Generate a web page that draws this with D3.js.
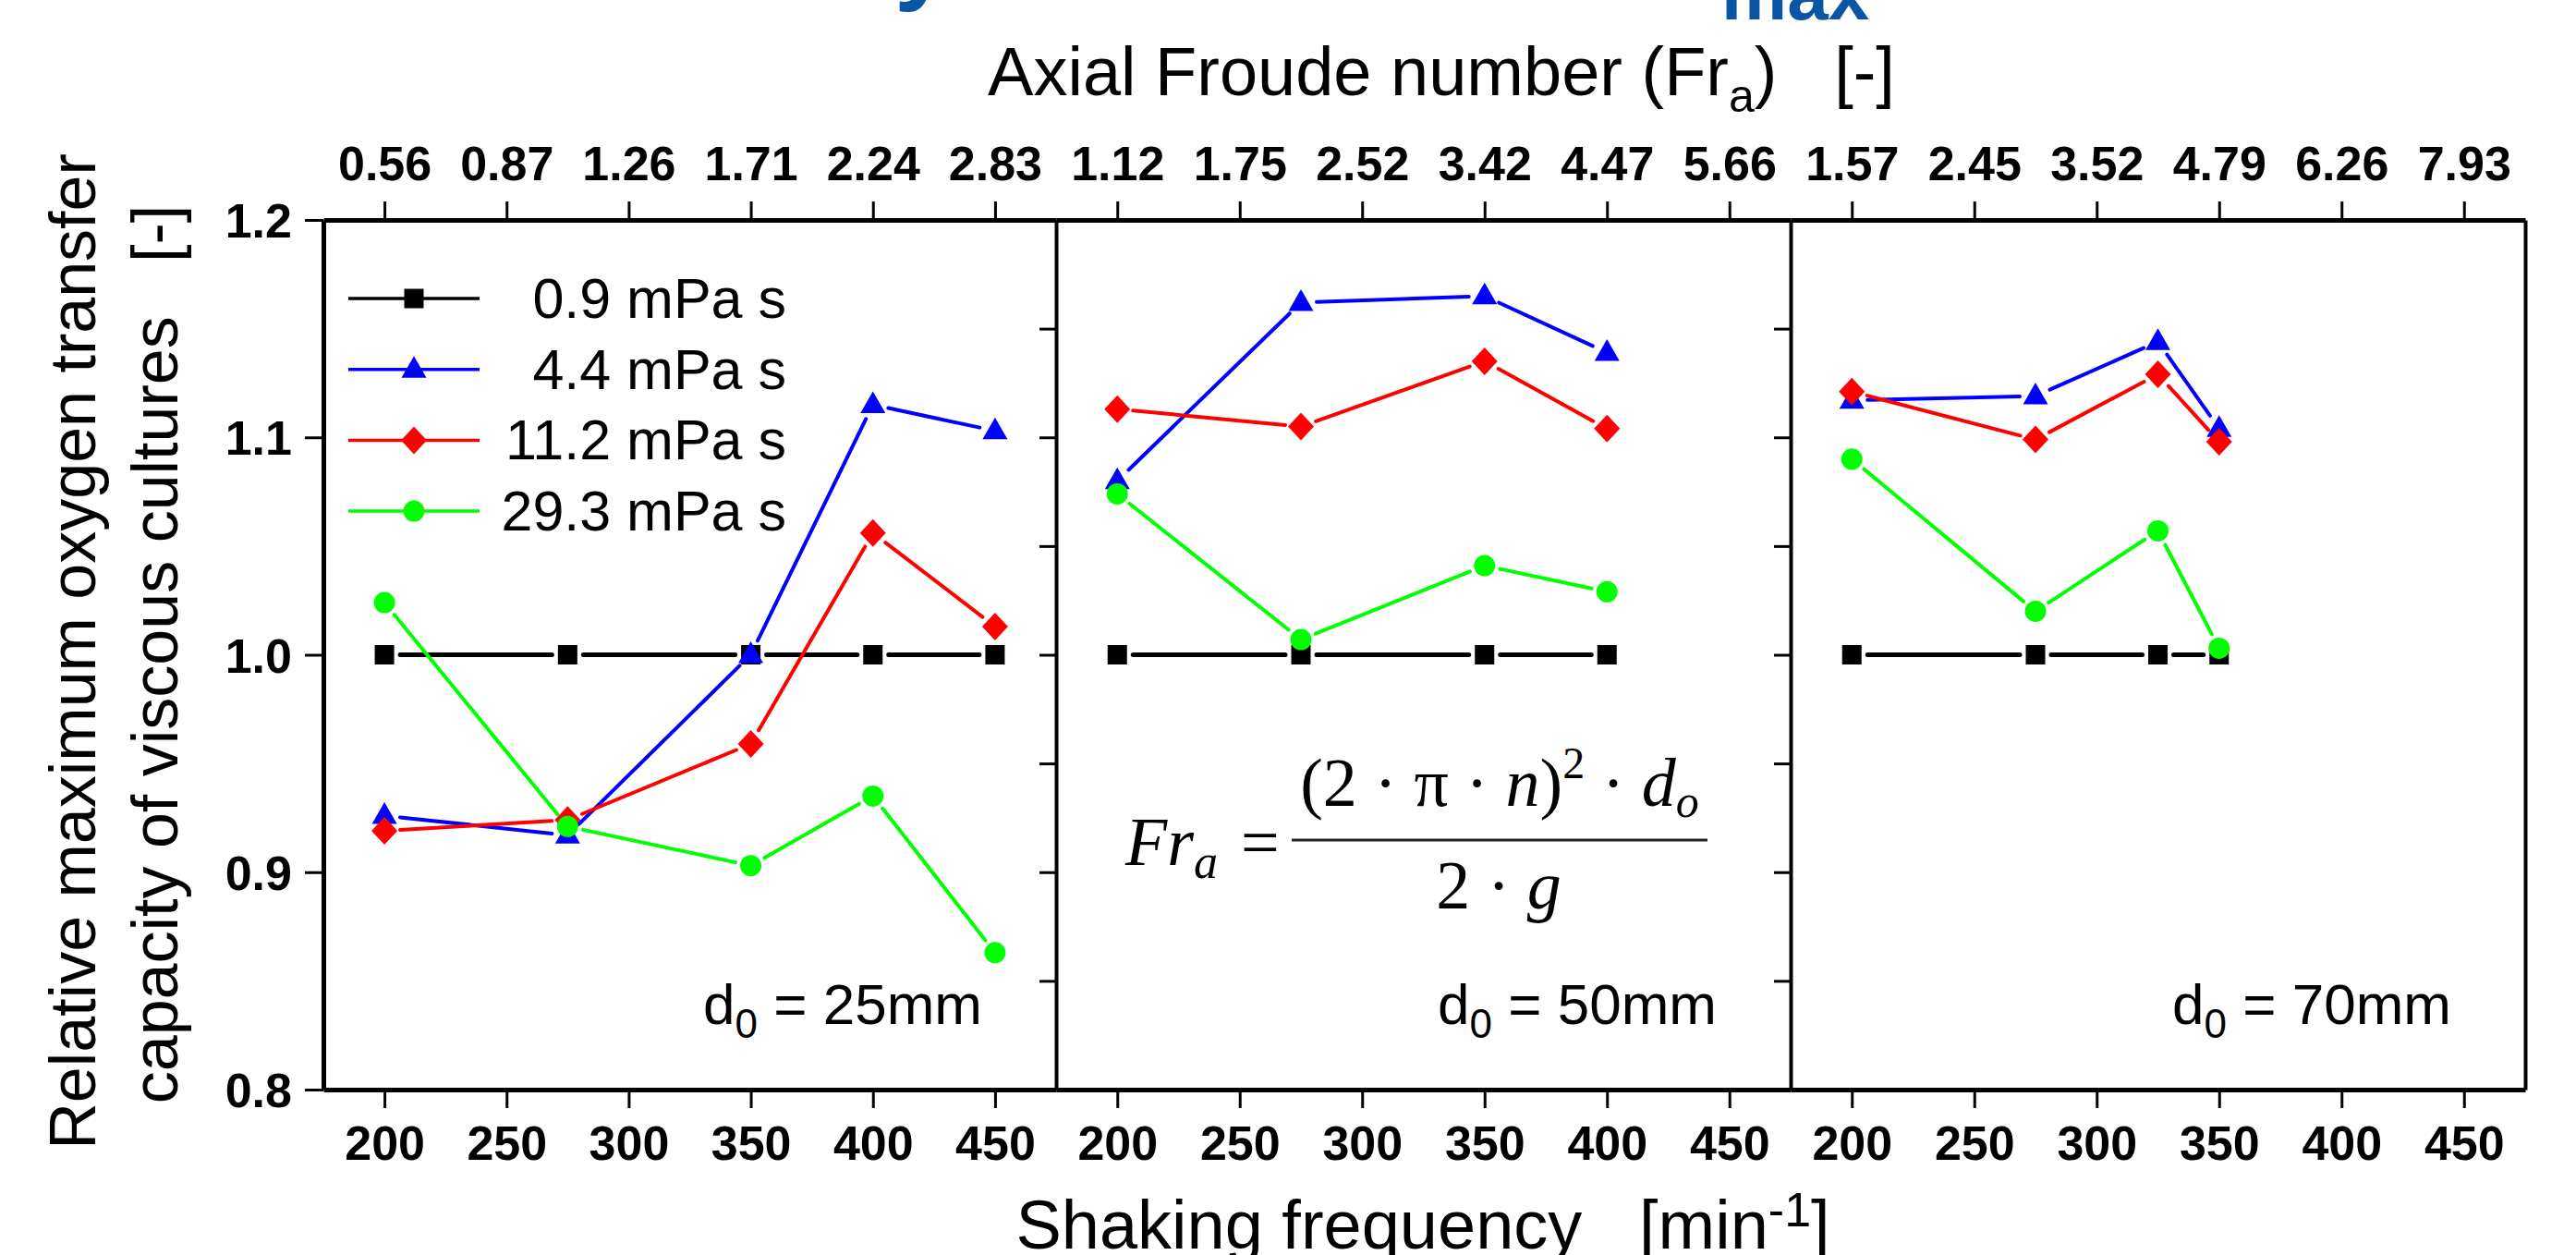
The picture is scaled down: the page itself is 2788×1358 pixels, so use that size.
<!DOCTYPE html>
<html>
<head>
<meta charset="utf-8">
<script src="https://cdn.jsdelivr.net/npm/d3@7"></script>
<style>
body{margin:0;background:#fff}
text{font-family:"Liberation Sans",Arial,sans-serif;white-space:pre}
</style>
</head>
<body>
<div id="chart"></div>
<script>
'use strict'
// shaking frequency of the measured points [1/min]
const freqP1=[200,275,350,400,450]
const freqP2=[200,275,350,400]
const freqP3=[200,275,325,350]
const freqTicks=[200,250,300,350,400,450]
// axial Froude numbers shown on the top axis
const froudeP1=['0.56','0.87','1.26','1.71','2.24','2.83']
const froudeP2=['1.12','1.75','2.52','3.42','4.47','5.66']
const froudeP3=['1.57','2.45','3.52','4.79','6.26','7.93']
const yTicks=[0.8,0.9,1.0,1.1,1.2]
const yMinorTicks=[0.85,0.9,0.95,1.0,1.05,1.1,1.15]
const seriesNames=['0.9 mPa s','4.4 mPa s','11.2 mPa s','29.3 mPa s']
const seriesColors=['#000000','#0000ff','#ff0000','#00ff00']
const panelLabels=['25mm','50mm','70mm']
// relative OTRmax, d0 = 25mm
const v09P1=[1,1,1,1,1]
const v44P1=[0.926,0.917,1.000,1.115,1.103]
const v112P1=[0.919,0.924,0.959,1.056,1.013]
const v293P1=[1.024,0.921,0.903,0.935,0.863]
// d0 = 50mm
const v09P2=[1,1,1,1]
const v44P2=[1.080,1.162,1.165,1.139]
const v112P2=[1.113,1.105,1.135,1.104]
const v293P2=[1.074,1.007,1.041,1.029]
// d0 = 70mm
const v09P3=[1,1,1,1]
const v44P3=[1.117,1.119,1.144,1.104]
const v112P3=[1.121,1.099,1.129,1.098]
const v293P3=[1.090,1.020,1.057,1.003]

let panels=[
  {freq:freqP1,froude:froudeP1,series:[v09P1,v44P1,v112P1,v293P1],label:panelLabels[0]},
  {freq:freqP2,froude:froudeP2,series:[v09P2,v44P2,v112P2,v293P2],label:panelLabels[1]},
  {freq:freqP3,froude:froudeP3,series:[v09P3,v44P3,v112P3,v293P3],label:panelLabels[2]}
]

const W=2788,H=1358
const plotTop=238,plotBottom=1179
const panelEdges=[350,1143,1938,2733]
const gap=17
const tickFont='bold 52px "Liberation Sans", Arial, sans-serif'

// origin-like marker shapes
const symSquare={draw(c){c.rect(-10.5,-10.5,21,21)}}
const symTriangle={draw(c){c.moveTo(0,-14.5);c.lineTo(13.5,9);c.lineTo(-13.5,9);c.closePath()}}
const symDiamond={draw(c){c.moveTo(0,-15);c.lineTo(14,0);c.lineTo(0,15);c.lineTo(-14,0);c.closePath()}}
const symCircle={draw(c){c.moveTo(11.5,0);c.arc(0,0,11.5,0,2*Math.PI)}}
const symbols=[symSquare,symTriangle,symDiamond,symCircle]

let svg=d3.select('#chart').append('svg').attr('width',W).attr('height',H).style('display','block')
svg.append('rect').attr('width',W).attr('height',H).attr('fill','#fff')

let y=d3.scaleLinear().domain([0.8,1.2]).range([plotBottom,plotTop])

function styleAxis(g,domainW){
  g.attr('font-size',null).attr('font-family',null)
  g.select('.domain').attr('stroke','#000').attr('stroke-width',domainW)
  g.selectAll('.tick line').attr('stroke','#000').attr('stroke-width',3)
  g.selectAll('.tick text').style('font',tickFont).attr('fill','#000')
}

// left y axis
let gl=svg.append('g').attr('transform','translate('+panelEdges[0]+',0)')
  .call(d3.axisLeft(y).tickValues(yTicks).tickFormat(d3.format('.1f')).tickSize(20).tickPadding(14).tickSizeOuter(0))
styleAxis(gl,5)
gl.selectAll('.tick text').attr('dy','0.36em')

// dividers between panels with small ticks
for(let k=1;k<3;k++){
  let gd=svg.append('g').attr('transform','translate('+panelEdges[k]+',0)')
    .call(d3.axisLeft(y).tickValues(yMinorTicks).tickFormat('').tickSize(18).tickSizeOuter(0))
  styleAxis(gd,4)
}
let gr=svg.append('g').attr('transform','translate('+panelEdges[3]+',0)')
  .call(d3.axisLeft(y).tickValues([]).tickSizeOuter(0))
styleAxis(gr,4)

function shorten(a,b){
  let dx=b[0]-a[0],dy=b[1]-a[1]
  let L=Math.sqrt(dx*dx+dy*dy)
  if(L<2*gap)return null
  let ux=dx/L,uy=dy/L
  return [a[0]+ux*gap,a[1]+uy*gap,b[0]-ux*gap,b[1]-uy*gap]
}

panels.forEach(function(p,i){
  let x=d3.scaleLinear().domain([175,475]).range([panelEdges[i],panelEdges[i+1]])
  let gb=svg.append('g').attr('transform','translate(0,'+plotBottom+')')
    .call(d3.axisBottom(x).tickValues(freqTicks).tickFormat(d3.format('d')).tickSize(20).tickPadding(19).tickSizeOuter(0))
  styleAxis(gb,5)
  let gt=svg.append('g').attr('transform','translate(0,'+plotTop+')')
    .call(d3.axisTop(x).tickValues(freqTicks).tickFormat((d,k)=>p.froude[k]).tickSize(20).tickPadding(23).tickSizeOuter(0))
  styleAxis(gt,5)

  p.series.forEach(function(vals,s){
    let pts=p.freq.map((f,k)=>[x(f),y(vals[k])])
    let segs=d3.pairs(pts).map(d=>shorten(d[0],d[1])).filter(d=>d)
    svg.append('g').selectAll('line').data(segs).join('line')
      .attr('x1',d=>d[0]).attr('y1',d=>d[1]).attr('x2',d=>d[2]).attr('y2',d=>d[3])
      .attr('stroke',seriesColors[s]).attr('stroke-width',s==0?5:4).attr('stroke-linecap','round')
    svg.append('g').selectAll('path').data(pts).join('path')
      .attr('transform',d=>'translate('+d[0]+','+d[1]+')')
      .attr('d',d3.symbol(symbols[s]))
      .attr('fill',seriesColors[s])
  })

  let t=svg.append('text').attr('x',panelEdges[i+1]-80).attr('y',1108).attr('text-anchor','end').attr('font-size',62)
  t.append('tspan').text('d')
  t.append('tspan').attr('font-size',44).attr('dy',15).text('0')
  t.append('tspan').attr('dy',-15).text(' = '+p.label)
})

// legend
let legend=svg.append('g').selectAll('g').data(seriesNames).join('g')
  .attr('transform',(d,i)=>'translate(0,'+(323+i*76.7)+')')
legend.append('line').attr('x1',377).attr('x2',519).attr('stroke',(d,i)=>seriesColors[i]).attr('stroke-width',3.5)
legend.append('path').attr('transform','translate(448,0)').attr('d',(d,i)=>d3.symbol(symbols[i])()).attr('fill',(d,i)=>seriesColors[i])
legend.append('text').attr('x',851).attr('y',21).attr('text-anchor','end').attr('font-size',61).text(d=>d)

// top axis title
let tt=svg.append('text').attr('x',1560).attr('y',103).attr('text-anchor','middle').attr('font-size',74)
tt.append('tspan').text('Axial Froude number (Fr')
tt.append('tspan').attr('font-size',50).attr('dy',18).text('a')
tt.append('tspan').attr('dy',-18).text(')   [-]')

// bottom axis title
let bt=svg.append('text').attr('x',1540).attr('y',1351).attr('text-anchor','middle').attr('font-size',74)
bt.append('tspan').text('Shaking frequency   [min')
bt.append('tspan').attr('font-size',52).attr('dy',-24).text('-1')
bt.append('tspan').attr('dy',24).text(']')

// y axis title
svg.append('text').attr('transform','translate(103,705) rotate(-90)').attr('text-anchor','middle').attr('font-size',70)
  .text('Relative maximum oxygen transfer')
svg.append('text').attr('transform','translate(192,708) rotate(-90)').attr('text-anchor','middle').attr('font-size',70)
  .text('capacity of viscous cultures   [-]')

// formula for the axial Froude number
let serif='"Liberation Serif","Times New Roman",serif'
let f=svg.append('g').style('font-family',serif)
let lhs=f.append('text').attr('x',1218).attr('y',936).attr('font-size',74).style('font-family',serif)
lhs.append('tspan').attr('font-style','italic').text('Fr')
lhs.append('tspan').attr('font-style','italic').attr('font-size',52).attr('dy',14).text('a')
f.append('text').attr('x',1343).attr('y',936).attr('font-size',74).style('font-family',serif).text('=')
f.append('line').attr('x1',1398).attr('x2',1848).attr('y1',909).attr('y2',909).attr('stroke','#222').attr('stroke-width',3)
let num=f.append('text').attr('x',1623).attr('y',872).attr('text-anchor','middle').attr('font-size',74).style('font-family',serif)
num.append('tspan').text('(2 \u00b7 \u03c0 \u00b7 ')
num.append('tspan').attr('font-style','italic').text('n')
num.append('tspan').text(')')
num.append('tspan').attr('font-size',48).attr('dy',-30).text('2')
num.append('tspan').attr('dy',30).text(' \u00b7 ')
num.append('tspan').attr('font-style','italic').text('d')
num.append('tspan').attr('font-style','italic').attr('font-size',50).attr('dy',12).text('o')
let den=f.append('text').attr('x',1622).attr('y',983).attr('text-anchor','middle').attr('font-size',74).style('font-family',serif)
den.append('tspan').text('2 \u00b7 ')
den.append('tspan').attr('font-style','italic').text('g')

// slide title fragments cut by the top edge
svg.append('text').attr('x',968).attr('y',-10).attr('font-size',110).attr('font-weight','bold').attr('fill','#0a56a4').text('y')
svg.append('text').attr('x',1863).attr('y',21).attr('font-size',80).attr('font-weight','bold').attr('fill','#0a56a4').text('max')
</script>
</body>
</html>
